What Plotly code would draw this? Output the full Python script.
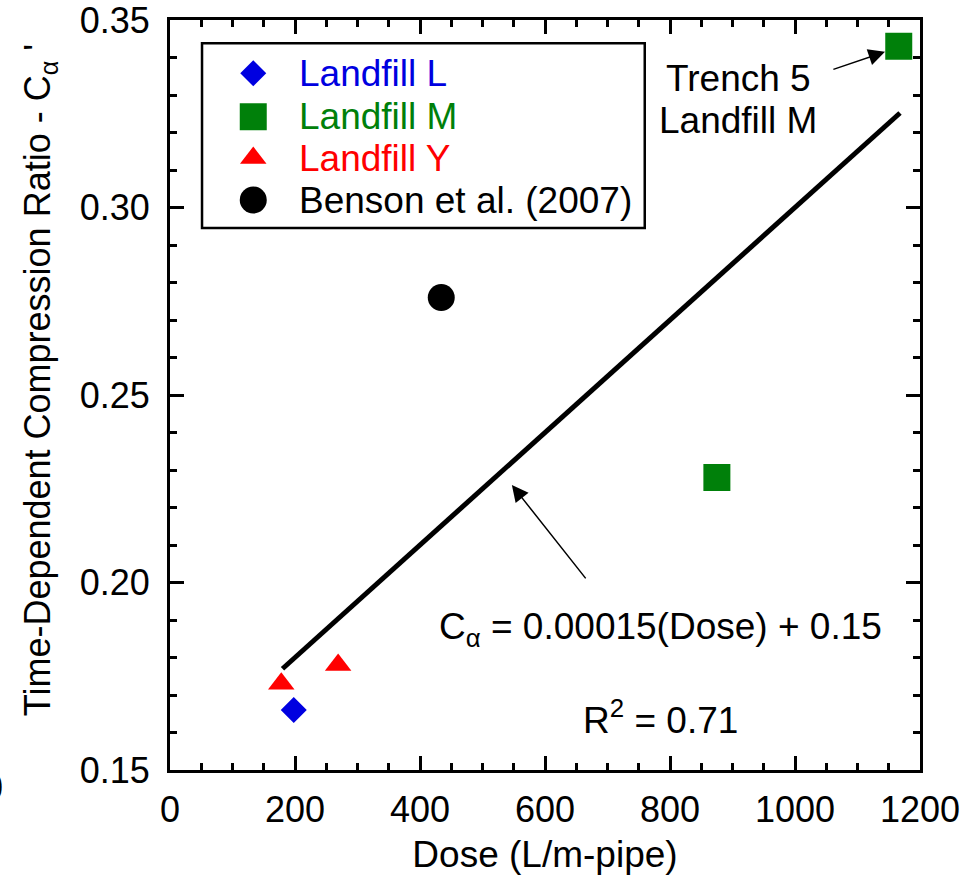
import plotly.graph_objects as go

# Series shown in the key
series_names = ["Landfill L", "Landfill M", "Landfill Y", "Benson et al. (2007)"]
series_colors = ["#0000E0", "#00800A", "#FF0000", "#000000"]
series_symbols = ["diamond", "square", "triangle-up", "circle"]
series_sizes = [20, 27, 23, 27]

# Measured data: dose (L/m-pipe) vs time-dependent compression ratio
dose_L = [198]
calpha_L = [0.166]
dose_M = [875, 1166]
calpha_M = [0.228, 0.343]
dose_Y = [178, 269]
calpha_Y = [0.173, 0.178]
dose_B = [434]
calpha_B = [0.276]

series_x = [dose_L, dose_M, dose_Y, dose_B]
series_y = [calpha_L, calpha_M, calpha_Y, calpha_B]

# Linear fit: C_alpha = 0.00015 (Dose) + 0.15
fit_slope = 0.00015
fit_intercept = 0.15
fit_dose = [180, 1168]
fit_calpha = [fit_slope * d + fit_intercept for d in fit_dose]

x_ticks = [0, 200, 400, 600, 800, 1000, 1200]
y_ticks = [0.15, 0.20, 0.25, 0.30, 0.35]

FONT = "Arial, Liberation Sans, Helvetica, sans-serif"

fig = go.Figure()

# regression line
fig.add_trace(go.Scatter(
    x=fit_dose, y=fit_calpha, mode="lines",
    line=dict(color="black", width=5), showlegend=False, hoverinfo="skip",
))

# data points
for name, col, sym, sz, xs, ys in zip(series_names, series_colors, series_symbols,
                                      series_sizes, series_x, series_y):
    fig.add_trace(go.Scatter(
        x=xs, y=ys, mode="markers", name=name, showlegend=False,
        marker=dict(symbol=sym, size=sz, color=col, line=dict(width=0)),
        cliponaxis=False,
    ))

# hand-built key drawn on an overlay axis spanning the plot area (0..1)
key_rows_y = [0.929, 0.871, 0.816, 0.760]
key_marker_x = 0.111
key_text_x = 0.169
for name, col, sym, sz, ky in zip(series_names, series_colors, series_symbols,
                                  series_sizes, key_rows_y):
    fig.add_trace(go.Scatter(
        x=[key_marker_x], y=[ky], xaxis="x2", yaxis="y2", mode="markers",
        marker=dict(symbol=sym, size=sz, color=col, line=dict(width=0)),
        showlegend=False, hoverinfo="skip",
    ))
    fig.add_annotation(
        x=key_text_x, y=ky, xref="x2", yref="y2", text=name, showarrow=False,
        xanchor="left", yanchor="middle",
        font=dict(family=FONT, size=37, color=col),
    )

fig.add_shape(
    type="rect", xref="paper", yref="paper",
    x0=0.0427, x1=0.633, y0=0.7227, y1=0.969,
    line=dict(color="black", width=2.5), fillcolor="rgba(0,0,0,0)",
)

# equation and R^2
fig.add_annotation(
    x=784, y=0.1875, xref="x", yref="y", showarrow=False,
    text="C<sub>α</sub> = 0.00015(Dose) + 0.15",
    font=dict(family=FONT, size=37, color="black"),
    xanchor="center", yanchor="middle",
)
fig.add_annotation(
    x=784, y=0.1641, xref="x", yref="y", showarrow=False,
    text="R<sup>2</sup> = 0.71",
    font=dict(family=FONT, size=37, color="black"),
    xanchor="center", yanchor="middle",
)

# arrow pointing at the fit line
fig.add_annotation(
    x=547, y=0.226, ax=667, ay=0.2007, xref="x", yref="y", axref="x", ayref="y",
    text="", showarrow=True, arrowhead=2, arrowsize=2.2, arrowwidth=1.5,
    arrowcolor="black", standoff=0,
)

# Trench 5 label and arrow
fig.add_annotation(
    x=909, y=0.3345, xref="x", yref="y", showarrow=False, text="Trench 5",
    font=dict(family=FONT, size=37, color="black"), xanchor="center", yanchor="middle",
)
fig.add_annotation(
    x=909, y=0.3233, xref="x", yref="y", showarrow=False, text="Landfill M",
    font=dict(family=FONT, size=37, color="black"), xanchor="center", yanchor="middle",
)
fig.add_annotation(
    x=1144, y=0.3415, ax=1059, ay=0.3367, xref="x", yref="y", axref="x", ayref="y",
    text="", showarrow=True, arrowhead=2, arrowsize=2.2, arrowwidth=1.5,
    arrowcolor="black", standoff=0,
)

# y-axis title
fig.add_annotation(
    x=-0.173, y=0.52, xref="paper", yref="paper", showarrow=False, textangle=-90,
    text="Time-Dependent Compression Ratio - C<sub>α</sub> '",
    font=dict(family=FONT, size=36, color="black"),
    xanchor="center", yanchor="middle",
)

# stray tick label at the far left edge
fig.add_annotation(
    x=-0.22, y=-0.023, xref="paper", yref="paper", showarrow=False, text="0",
    font=dict(family=FONT, size=36, color="black"), xanchor="right", yanchor="middle",
)

axis_common = dict(
    showline=True, linecolor="black", linewidth=3, mirror="allticks",
    ticks="inside", tickcolor="black", tickwidth=2.5, ticklen=14,
    showgrid=False, zeroline=False, ticklabeloverflow="allow", automargin=False,
    tickfont=dict(family=FONT, size=36, color="black"),
)

fig.update_layout(
    width=967, height=876,
    margin=dict(l=170, r=47, t=20, b=106, autoexpand=False),
    paper_bgcolor="white", plot_bgcolor="white",
    showlegend=False,
    xaxis=dict(
        range=[0, 1200], tickvals=x_ticks, ticktext=[str(v) for v in x_ticks],
        minor=dict(ticks="inside", dtick=50, ticklen=7, tickwidth=2.5, tickcolor="black"),
        title=dict(text="Dose (L/m-pipe)", font=dict(family=FONT, size=37, color="black"),
                   standoff=12),
        ticklabelstandoff=6,
        **axis_common,
    ),
    yaxis=dict(
        range=[0.15, 0.35], tickvals=y_ticks,
        ticktext=[f"{v:.2f}" for v in y_ticks],
        minor=dict(ticks="inside", dtick=0.01, ticklen=7, tickwidth=2.5, tickcolor="black"),
        ticklabelstandoff=10,
        **axis_common,
    ),
    xaxis2=dict(range=[0, 1], overlaying="x", visible=False, fixedrange=True),
    yaxis2=dict(range=[0, 1], overlaying="y", visible=False, fixedrange=True),
)

fig.write_html("out.html")
